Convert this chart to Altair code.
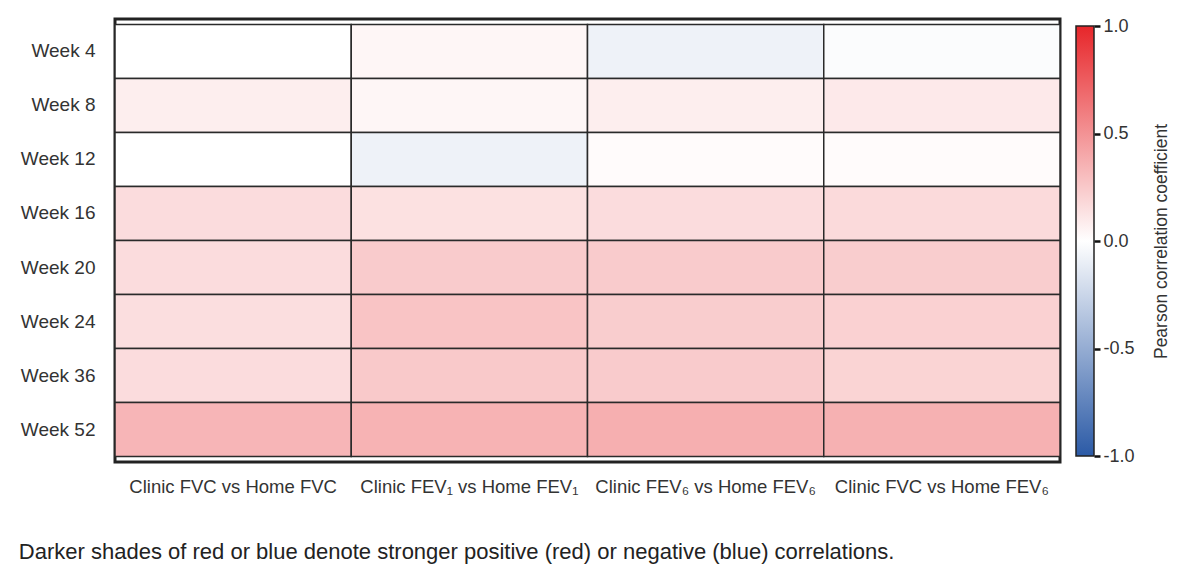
import altair as alt
import pandas as pd

weeks = ["Week 4", "Week 8", "Week 12", "Week 16", "Week 20", "Week 24", "Week 36", "Week 52"]
comparisons = [
    "Clinic FVC vs Home FVC",
    "Clinic FEV\u2081 vs Home FEV\u2081",
    "Clinic FEV\u2086 vs Home FEV\u2086",
    "Clinic FVC vs Home FEV\u2086",
]
fvc_vs_fvc = [0.00, 0.08, 0.00, 0.16, 0.16, 0.15, 0.16, 0.34]
fev1_vs_fev1 = [0.04, 0.04, -0.08, 0.14, 0.24, 0.27, 0.25, 0.35]
fev6_vs_fev6 = [-0.08, 0.08, 0.02, 0.16, 0.24, 0.23, 0.24, 0.37]
fvc_vs_fev6 = [-0.02, 0.10, 0.02, 0.17, 0.23, 0.21, 0.20, 0.36]
series = [fvc_vs_fvc, fev1_vs_fev1, fev6_vs_fev6, fvc_vs_fev6]

colorbar_ticks = [-1.0, -0.5, 0.0, 0.5, 1.0]
scale_colors = ["#2b5aa6", "#ffffff", "#e7262a"]

rows = []
for comp, vals in zip(comparisons, series):
    for wk, v in zip(weeks, vals):
        rows.append({"comparison": comp, "week": wk, "r": v})
df = pd.DataFrame(rows)

FONT = "Liberation Sans"
TXT = "#333333"

heat = (
    alt.Chart(df)
    .mark_rect(stroke="#2a2a2a", strokeWidth=1.5)
    .encode(
        x=alt.X(
            "comparison:N",
            sort=comparisons,
            title=None,
            scale=alt.Scale(paddingInner=0, paddingOuter=0),
            axis=alt.Axis(
                labelAngle=0,
                ticks=False,
                domain=False,
                labelPadding=15,
                labelFontSize=18.5,
                labelFont=FONT,
                labelColor=TXT,
                labelLimit=0,
            ),
        ),
        y=alt.Y(
            "week:N",
            sort=weeks,
            title=None,
            scale=alt.Scale(paddingInner=0, paddingOuter=0.1),
            axis=alt.Axis(
                ticks=False,
                domain=False,
                labelPadding=20,
                labelFontSize=19,
                labelFont=FONT,
                labelColor=TXT,
            ),
        ),
        color=alt.Color(
            "r:Q",
            scale=alt.Scale(domain=[-1, 0, 1], range=scale_colors, interpolate="rgb"),
            legend=None,
        ),
    )
    .properties(
        width=945,
        height=443,
        view=alt.ViewBackground(stroke="#222222", strokeWidth=3),
    )
)

bar_df = pd.DataFrame({"lo": [min(colorbar_ticks)], "hi": [max(colorbar_ticks)]})
gradient = alt.LinearGradient(
    gradient="linear",
    stops=[
        alt.GradientStop(color=scale_colors[2], offset=0),
        alt.GradientStop(color=scale_colors[1], offset=0.5),
        alt.GradientStop(color=scale_colors[0], offset=1),
    ],
    x1=0, x2=0, y1=0, y2=1,
)

colorbar = (
    alt.Chart(bar_df)
    .mark_rect(color=gradient, stroke="#222222", strokeWidth=1.5)
    .encode(
        x=alt.value(0),
        x2=alt.value(18),
        y=alt.Y(
            "hi:Q",
            scale=alt.Scale(domain=[-1, 1], range=[437, 7]),
            axis=alt.Axis(
                orient="right",
                values=colorbar_ticks,
                labelExpr="datum.value < 0 ? '-' + format(-datum.value, '.1f') : format(datum.value, '.1f')",
                grid=False,
                domain=False,
                ticks=True,
                tickSize=6,
                tickWidth=2.5,
                tickColor="#111111",
                labelPadding=3,
                labelFont=FONT,
                labelFontSize=18,
                labelColor=TXT,
                title="Pearson correlation coefficient",
                titleAngle=270,
                titleBaseline="top",
                titleFont=FONT,
                titleFontSize=17.5,
                titleFontWeight="normal",
                titleColor=TXT,
                titlePadding=18,
            ),
        ),
        y2="lo:Q",
    )
    .properties(width=18, height=443, view=alt.ViewBackground(strokeWidth=0))
)

chart = (
    alt.hconcat(heat, colorbar, spacing=12)
    .properties(
        padding={"left": 10, "top": 9, "right": 5, "bottom": 5},
        title=alt.TitleParams(
            "Darker shades of red or blue denote stronger positive (red) or negative (blue) correlations.",
            orient="bottom",
            anchor="start",
            frame="bounds",
            font=FONT,
            fontSize=22,
            fontWeight="normal",
            color="#222222",
            offset=45,
        ),
    )
)

chart.save("out.html", embed_options={"renderer": "svg", "actions": False})
